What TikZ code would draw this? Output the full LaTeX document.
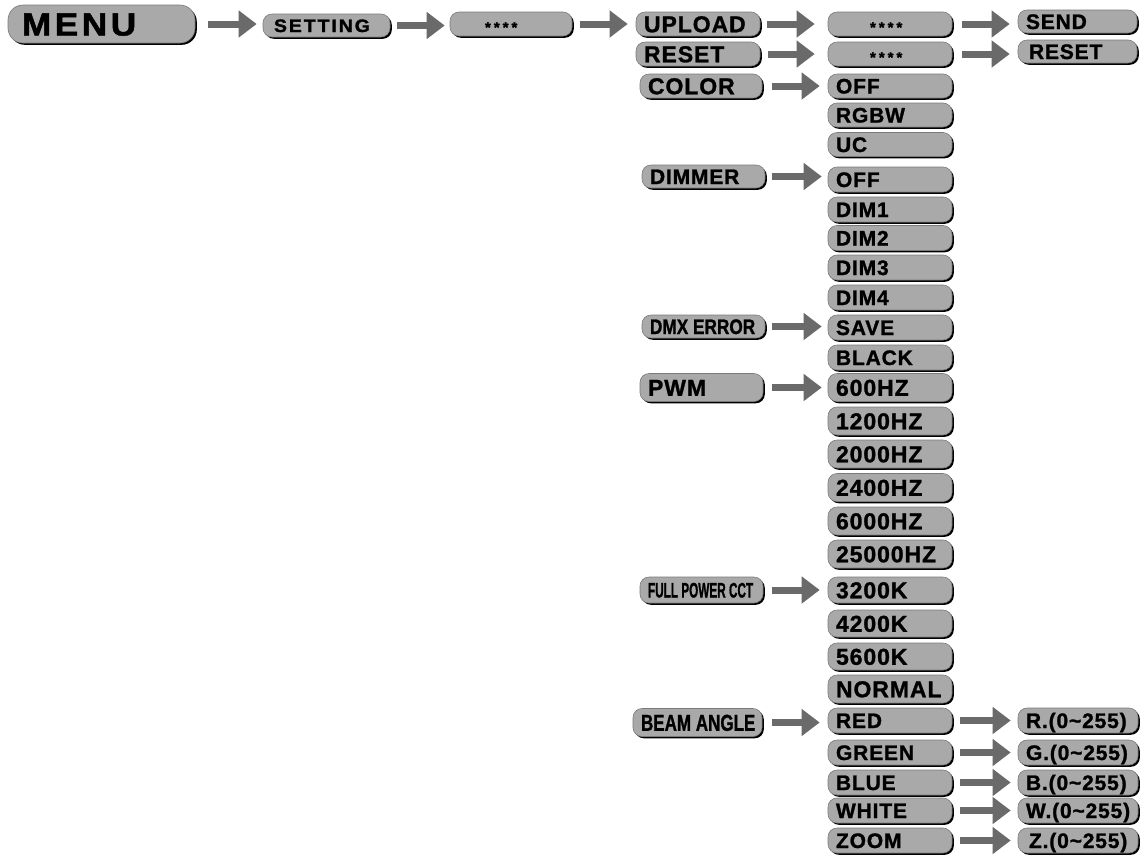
\documentclass[tikz,border=0pt]{standalone}
\usepackage{fontspec}
\newfontfamily\lab{Liberation Sans}[LetterSpace=4,FakeBold=1.2]
\newfontfamily\labn{Liberation Sans}[FakeBold=1.2]
\newfontfamily\labm{Liberation Sans}[LetterSpace=10,FakeBold=1.5]
\usetikzlibrary{shadows,arrows.meta}
\definecolor{boxgray}{HTML}{A9A9A9}
\definecolor{boxedge}{HTML}{7A7A7A}
\definecolor{arrgray}{HTML}{6A6A6A}
\tikzset{
 box/.style={rounded corners=9pt, fill=boxgray, draw=boxedge, line width=0.6pt,
   drop shadow={shadow xshift=1.8pt, shadow yshift=-1.8pt, opacity=1, fill=black},
   inner xsep=8pt, inner ysep=0pt, text depth=0pt},
 fa/.style={font=\lab\bfseries\fontsize{21}{21}\selectfont, text height=15pt},
 fb/.style={font=\lab\bfseries\fontsize{23}{23}\selectfont, text height=16.5pt},
 fn/.style={font=\labn\bfseries\fontsize{21}{21}\selectfont, text height=15pt},
 fnb/.style={font=\labn\bfseries\fontsize{23}{23}\selectfont, text height=16.5pt},
 fm/.style={font=\labm\bfseries\fontsize{32}{32}\selectfont, text height=23pt, rounded corners=15pt},
 fs/.style={font=\labm\bfseries\fontsize{18}{18}\selectfont, text height=13pt},
 fst/.style={font=\labn\bfseries\fontsize{15}{15}\selectfont, text height=10.8pt},
 garrow/.style={draw=arrgray, line width=7pt, -{Triangle[width=26pt,length=18pt]},
   shorten <=8pt, shorten >=7pt},
}
\newcommand\bx[7]{%
 \pgfmathsetmacro\tw{#4-16}%
 \node[box,#6,minimum width=#4pt,minimum height=#5pt] (#1) at (#2,#3) {\makebox[\tw pt][l]{#7}};}
\newcommand\stars{\raisebox{-3.2pt}{*\hspace{3pt}*\hspace{3pt}*\hspace{3pt}*}}
\begin{document}
\begin{tikzpicture}[x=1pt,y=-1pt]
\path[use as bounding box] (0,0) rectangle (1144,855);
% top chain
\bx{menu}{101.5}{24}{187}{38}{fm}{\hspace*{6pt}\scalebox{1.1}[1]{MENU}}
\bx{setting}{326.5}{25.5}{127}{23}{fs}{\hspace*{3pt}\scalebox{1.08}[1]{SETTING}}
\bx{s1}{511}{24}{122}{24}{fst}{\hspace*{27pt}\stars}
% column B
\bx{upload}{698}{24}{124}{24}{fb}{UPLOAD}
\bx{resetB}{698}{54}{124}{24}{fb}{RESET}
\bx{color}{701}{86}{122}{24}{fb}{COLOR}
\bx{dimmer}{703.5}{176.5}{123}{23}{fa}{DIMMER}
\bx{dmx}{703.5}{326.5}{123}{23}{fn}{\scalebox{0.82}[1]{DMX ERROR}}
\bx{pwm}{701.5}{387.5}{123}{28}{fb}{PWM}
\bx{fpcct}{701.5}{590}{123}{26}{fn}{\scalebox{0.56}[1]{FULL POWER CCT}}
\bx{beam}{697.5}{722.5}{129}{28}{fnb}{\scalebox{0.74}[1]{BEAM ANGLE}}
% column C
\bx{s2}{890}{24}{124}{24}{fst}{\hspace*{34pt}\stars}
\bx{s3}{890}{54}{124}{24}{fst}{\hspace*{34pt}\stars}
\bx{offA}{890}{86}{124}{24}{fa}{OFF}
\bx{rgbw}{890}{115}{124}{24}{fa}{RGBW}
\bx{uc}{890}{144.5}{124}{24}{fa}{UC}
\bx{offB}{890}{179.5}{124}{25}{fa}{OFF}
\bx{dimA}{890}{209.5}{124}{25}{fa}{DIM1}
\bx{dimB}{890}{238}{124}{25}{fa}{DIM2}
\bx{dimC}{890}{267.5}{124}{25}{fa}{DIM3}
\bx{dimD}{890}{297.5}{124}{25}{fa}{DIM4}
\bx{save}{890}{327.5}{124}{25}{fa}{SAVE}
\bx{black}{890}{357.5}{124}{25}{fa}{BLACK}
\bx{hzA}{890}{387.5}{124}{28}{fb}{600HZ}
\bx{hzB}{890}{421}{124}{28}{fb}{1200HZ}
\bx{hzC}{890}{454}{124}{28}{fb}{2000HZ}
\bx{hzD}{890}{487.5}{124}{28}{fb}{2400HZ}
\bx{hzE}{890}{521}{124}{28}{fb}{6000HZ}
\bx{hzF}{890}{554}{124}{28}{fb}{25000HZ}
\bx{kA}{890}{590}{124}{26}{fb}{3200K}
\bx{kB}{890}{623.5}{124}{27}{fb}{4200K}
\bx{kC}{890}{656.5}{124}{27}{fb}{5600K}
\bx{normal}{890}{689}{124}{28}{fb}{NORMAL}
\bx{red}{890}{720.5}{124}{25}{fa}{RED}
\bx{green}{890}{752.5}{124}{25}{fa}{GREEN}
\bx{blue}{890}{782.5}{124}{25}{fa}{BLUE}
\bx{white}{890}{810.5}{124}{25}{fa}{WHITE}
\bx{zoom}{890}{840.5}{124}{25}{fa}{ZOOM}
% column D
\bx{send}{1077.5}{21.5}{119}{23}{fa}{SEND}
\bx{resetD}{1077.5}{51.5}{119}{23}{fa}{\hspace*{3pt}RESET}
\bx{rv}{1078}{720.5}{120}{25}{fa}{R.(0\textasciitilde255)}
\bx{gv}{1078}{752.5}{120}{25}{fa}{G.(0\textasciitilde255)}
\bx{bv}{1078}{782.5}{120}{25}{fa}{B.(0\textasciitilde255)}
\bx{wv}{1078}{810.5}{120}{25}{fa}{W.(0\textasciitilde255)}
\bx{zv}{1078}{840.5}{120}{25}{fa}{\hspace*{3pt}Z.(0\textasciitilde255)}
% arrows
\draw[garrow,shorten <=13pt,shorten >=6pt] (menu.east) -- (menu.east -| setting.west);
\draw[garrow,shorten <=7pt,shorten >=5pt] (setting.east) -- (setting.east -| s1.west);
\draw[garrow,shorten <=8pt,shorten >=8pt] (s1.east) -- (s1.east -| upload.west);
\draw[garrow,shorten <=7pt,shorten >=13pt] (upload.east) -- (upload.east -| s2.west);
\draw[garrow,shorten <=8pt,shorten >=13pt] (resetB.east) -- (resetB.east -| s3.west);
\draw[garrow,shorten <=10pt,shorten >=8pt] (color.east) -- (color.east -| offA.west);
\draw[garrow,shorten <=7pt,shorten >=6pt] (dimmer.east) -- (dimmer.east -| offB.west);
\draw[garrow,shorten <=7pt,shorten >=6pt] (dmx.east) -- (dmx.east -| save.west);
\draw[garrow,shorten <=9pt,shorten >=6pt] (pwm.east) -- (pwm.east -| hzA.west);
\draw[garrow,shorten <=9pt,shorten >=8pt] (fpcct.east) -- (fpcct.east -| kA.west);
\draw[garrow,shorten <=10pt,shorten >=8pt] (beam.east) -- (beam.east -| red.west);
\draw[garrow,shorten <=10pt,shorten >=8pt] (s2.east) -- (s2.east -| send.west);
\draw[garrow,shorten <=10pt,shorten >=8pt] (s3.east) -- (s3.east -| resetD.west);
\draw[garrow] (red.east) -- (red.east -| rv.west);
\draw[garrow] (green.east) -- (green.east -| gv.west);
\draw[garrow] (blue.east) -- (blue.east -| bv.west);
\draw[garrow] (white.east) -- (white.east -| wv.west);
\draw[garrow] (zoom.east) -- (zoom.east -| zv.west);
\end{tikzpicture}
\end{document}
